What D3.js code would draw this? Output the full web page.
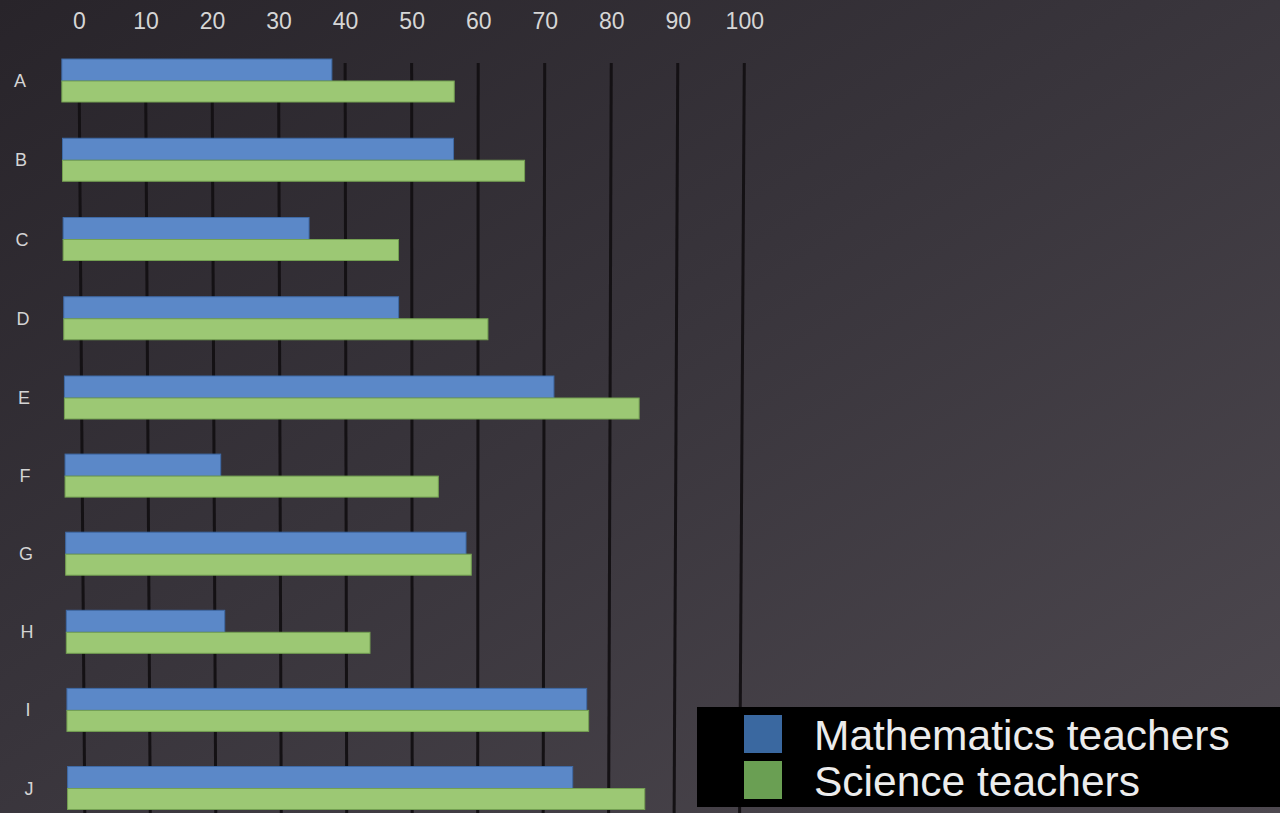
<!DOCTYPE html>
<html>
<head>
<meta charset="utf-8">
<script src="https://cdn.jsdelivr.net/npm/d3@7/dist/d3.min.js"></script>
<style>
  html, body { margin: 0; padding: 0; background: #2b272c; }
  svg { display: block; }
</style>
</head>
<body>
<svg id="chart" width="1280" height="813"></svg>
<script>
// Categories and series values (percent)
const categories = ["A", "B", "C", "D", "E", "F", "G", "H", "I", "J"];
const mathTeachers    = [38, 56.3, 34.5, 48, 71.5, 21, 58.2, 21.5, 76.6, 74.5];
const scienceTeachers = [56.4, 67, 48, 61.5, 84.4, 54, 59, 43.6, 76.9, 85.5];
const seriesNames = ["Mathematics teachers", "Science teachers"];
const tickValues = [0, 10, 20, 30, 40, 50, 60, 70, 80, 90, 100];
// Bars are drawn from a baseline slightly left of the zero line
const barBaseline = -2.6;

const W = 1280, H = 813;
const svg = d3.select("#chart");

// Background gradient
const defs = svg.append("defs");
const bg = defs.append("linearGradient").attr("id", "bg")
  .attr("x1", "0").attr("y1", "0").attr("x2", "1").attr("y2", "1");
bg.append("stop").attr("offset", "0%").attr("stop-color", "#28242a");
bg.append("stop").attr("offset", "45%").attr("stop-color", "#38343b");
bg.append("stop").attr("offset", "100%").attr("stop-color", "#4e4950");
svg.append("rect").attr("width", W).attr("height", H).attr("fill", "url(#bg)");

// Plot is seen at a slight angle: the value axis narrows a little toward the bottom
const gridTop = 63, gridBottom = H;
const leftEdge  = d3.scaleLinear().domain([gridTop, gridBottom]).range([79, 84.8]);
const rightEdge = d3.scaleLinear().domain([gridTop, gridBottom]).range([744.3, 739.6]);
const xAt = y => d3.scaleLinear().domain([0, 100]).range([leftEdge(y), rightEdge(y)]);

// Row centres
const yRow = d3.scaleLinear().domain([0, 4, 9]).range([81, 398, 788.5]);
const labelX = d3.scaleLinear().domain([81, 788.5]).range([20, 29]);
const barH = 22;

// Gridlines
const xTop = xAt(gridTop), xBot = xAt(gridBottom);
svg.append("g").selectAll("line").data(tickValues).join("line")
  .attr("x1", d => xTop(d)).attr("y1", gridTop)
  .attr("x2", d => xBot(d)).attr("y2", gridBottom)
  .attr("stroke", "#141114").attr("stroke-width", 3);

// Tick labels along the top
const axis = svg.append("g").attr("transform", "translate(0,29)")
  .call(d3.axisTop(xTop).tickValues(tickValues).tickSize(0).tickPadding(0));
axis.select(".domain").remove();
axis.selectAll("text")
  .attr("fill", "#d6d6d6")
  .style("font-family", "'Liberation Sans', Arial, sans-serif")
  .style("font-size", "23px");

// Bars
const rows = categories.map((c, i) => ({ c, i, m: mathTeachers[i], s: scienceTeachers[i] }));
const colors = { m: "#5b88c8", s: "#9cc874" };
const strokes = { m: "#3f6aa5", s: "#74a052" };

const gRows = svg.append("g").selectAll("g").data(rows).join("g");
gRows.each(function(d) {
  const g = d3.select(this);
  const cy = yRow(d.i);
  const x = xAt(cy);
  g.append("rect")
    .attr("x", x(barBaseline)).attr("y", cy - barH)
    .attr("width", x(d.m) - x(barBaseline)).attr("height", barH)
    .attr("fill", colors.m).attr("stroke", strokes.m).attr("stroke-width", 1);
  g.append("rect")
    .attr("x", x(barBaseline)).attr("y", cy)
    .attr("width", x(d.s) - x(barBaseline)).attr("height", barH - 1)
    .attr("fill", colors.s).attr("stroke", strokes.s).attr("stroke-width", 1);
  g.append("text")
    .attr("x", labelX(cy)).attr("y", cy)
    .attr("text-anchor", "middle").attr("dominant-baseline", "central")
    .attr("fill", "#d4d4d4")
    .style("font-family", "'Liberation Sans', Arial, sans-serif")
    .style("font-size", "18px")
    .text(d.c);
});

// Legend
const legend = svg.append("g");
legend.append("rect").attr("x", 697).attr("y", 707).attr("width", W - 697).attr("height", 100)
  .attr("fill", "#000");
const legendColors = ["#3a68a0", "#6a9f53"];
const legendY = d3.scalePoint().domain(seriesNames).range([734, 780]);
seriesNames.forEach((name, i) => {
  const cy = legendY(name);
  legend.append("rect").attr("x", 744).attr("y", cy - 19).attr("width", 38).attr("height", 38)
    .attr("fill", legendColors[i]);
  legend.append("text").attr("x", 814).attr("y", cy + 16)
    .attr("fill", "#ececec")
    .style("font-family", "'Liberation Sans', Arial, sans-serif")
    .style("font-size", "42.5px")
    .text(name);
});
</script>
</body>
</html>
